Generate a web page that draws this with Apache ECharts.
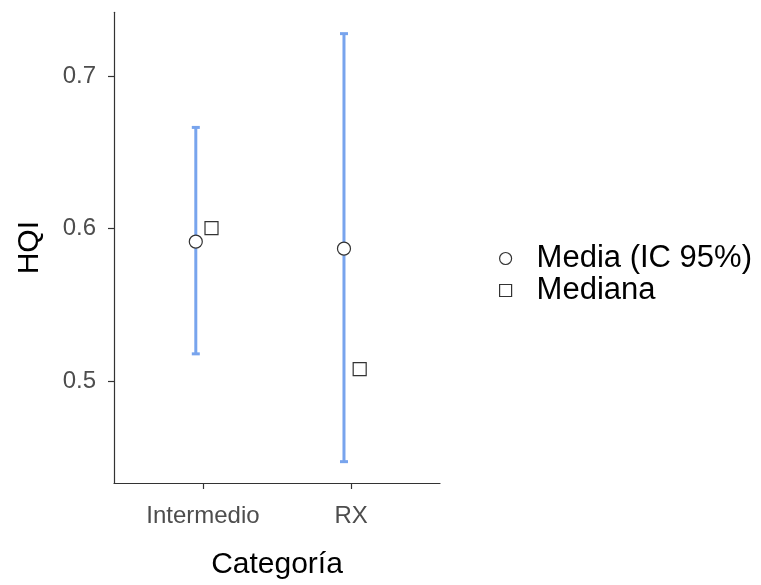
<!DOCTYPE html>
<html>
<head>
<meta charset="utf-8">
<script src="https://cdn.jsdelivr.net/npm/echarts@6/dist/echarts.min.js"></script>
<style>html,body{margin:0;padding:0;background:#fff;}#c{width:761px;height:585px;}</style>
</head>
<body>
<div id="c"></div>
<script>
const categories = ['Intermedio', 'RX'];
const meanValues = [0.5915, 0.5869];
const ciLow = [0.5179, 0.4472];
const ciHigh = [0.6664, 0.7279];
const medianValues = [0.6003, 0.5079];
const yTicks = [0.5, 0.6, 0.7];

const MEAN_DODGE = -0.048, MEDIAN_DODGE = 0.058;
const catPos = categories.map((c, i) => i + 1);

const errData = catPos.map((p, i) => [p + MEAN_DODGE, ciLow[i], ciHigh[i]]);
const meanData = catPos.map((p, i) => [p + MEAN_DODGE, meanValues[i]]);
const medianData = catPos.map((p, i) => [p + MEDIAN_DODGE, medianValues[i]]);

const FONT = 'Liberation Sans, Arial, sans-serif';
const chart = echarts.init(document.getElementById('c'));
chart.setOption({
  backgroundColor: '#fff',
  animation: false,
  grid: { left: 114, right: 321, top: 12.3, bottom: 99.3, containLabel: false },
  xAxis: {
    type: 'value', min: 0.4, max: 2.6,
    name: 'Categoría', nameLocation: 'middle', nameGap: 67,
    nameTextStyle: { fontFamily: FONT, fontSize: 30, color: '#000' },
    axisLine: { show: true, onZero: false, lineStyle: { color: '#333', width: 1.2 } },
    axisTick: { show: true, length: 6, customValues: catPos, lineStyle: { color: '#333', width: 1.2 } },
    axisLabel: { customValues: catPos, margin: 21, fontFamily: FONT, fontSize: 24, color: '#4D4D4D',
      formatter: v => categories[Math.round(v) - 1] || '' },
    splitLine: { show: false }
  },
  yAxis: {
    type: 'value', min: 0.4332, max: 0.7419,
    name: 'HQI', nameLocation: 'middle', nameGap: 69, nameRotate: 90,
    nameTextStyle: { fontFamily: FONT, fontSize: 30, color: '#000' },
    axisLine: { show: true, onZero: false, lineStyle: { color: '#333', width: 1.2 } },
    axisTick: { show: true, length: 6, customValues: yTicks, lineStyle: { color: '#333', width: 1.2 } },
    axisLabel: { customValues: yTicks, margin: 18, fontFamily: FONT, fontSize: 24, color: '#4D4D4D',
      formatter: v => v.toFixed(1) },
    splitLine: { show: false }
  },
  legend: {
    orient: 'vertical', left: 494, top: 238,
    itemWidth: 12, itemHeight: 12, itemGap: 1,
    textStyle: { fontFamily: FONT, fontSize: 31, color: '#000', padding: [0, 0, 0, 20] },
    data: [
      { name: 'Media (IC 95%)', icon: 'circle', itemStyle: { color: '#fff', borderColor: '#333', borderWidth: 1.2 } },
      { name: 'Mediana', icon: 'rect', itemStyle: { color: '#fff', borderColor: '#333', borderWidth: 1.2 } }
    ]
  },
  series: [
    {
      type: 'custom', name: 'ci', data: errData, z: 1,
      renderItem: function (params, api) {
        const x = api.value(0);
        const lo = api.coord([x, api.value(1)]);
        const hi = api.coord([x, api.value(2)]);
        const hw = 4;
        const st = { stroke: '#78A4ED', lineWidth: 3 };
        return {
          type: 'group', children: [
            { type: 'line', shape: { x1: lo[0], y1: lo[1], x2: hi[0], y2: hi[1] }, style: st },
            { type: 'line', shape: { x1: lo[0] - hw, y1: lo[1], x2: lo[0] + hw, y2: lo[1] }, style: st },
            { type: 'line', shape: { x1: hi[0] - hw, y1: hi[1], x2: hi[0] + hw, y2: hi[1] }, style: st }
          ]
        };
      }
    },
    {
      type: 'scatter', name: 'Media (IC 95%)', data: meanData, symbol: 'circle', symbolSize: 13, z: 3,
      itemStyle: { color: '#fff', borderColor: '#333', borderWidth: 1.2, opacity: 1 }
    },
    {
      type: 'scatter', name: 'Mediana', data: medianData, symbol: 'rect', symbolSize: 13, z: 3,
      itemStyle: { color: '#fff', borderColor: '#333', borderWidth: 1.2, opacity: 1 }
    }
  ]
});
</script>
</body>
</html>
